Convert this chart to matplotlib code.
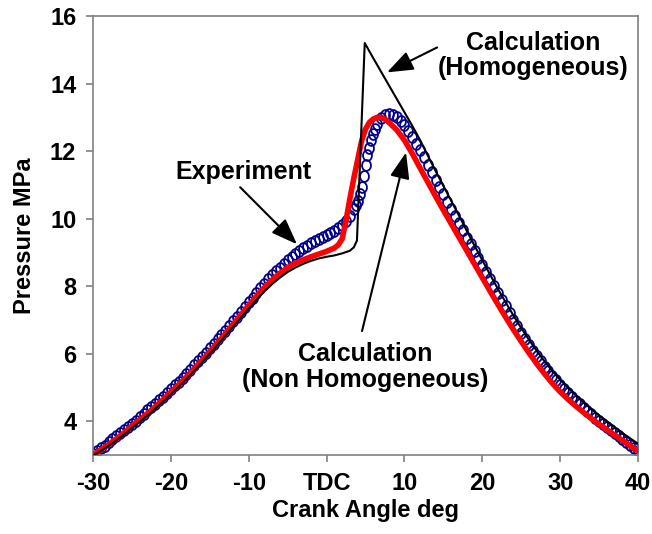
import matplotlib
matplotlib.use("Agg")
import matplotlib.pyplot as plt
import numpy as np
from matplotlib.path import Path

# experiment: crank angle (deg) and measured pressure (MPa)
exp_angle = np.concatenate(
    [np.arange(-30, 3.5, 0.5), np.arange(3.5, 6.75, 0.25), np.arange(7, 40.5, 0.5)]
)
exp_pressure = [
    3.04, 3.12, 3.20, 3.28, 3.37, 3.46, 3.55, 3.64, 3.73, 3.83, 3.93,
    4.02, 4.12, 4.22, 4.32, 4.42, 4.52, 4.62, 4.73, 4.84, 4.95,
    5.06, 5.17, 5.29, 5.41, 5.53, 5.65, 5.77, 5.90, 6.03, 6.16,
    6.29, 6.42, 6.55, 6.68, 6.82, 6.96, 7.10, 7.24, 7.38, 7.52,
    7.66, 7.80, 7.94, 8.07, 8.20, 8.32, 8.44, 8.55, 8.66, 8.76,
    8.86, 8.95, 9.04, 9.12, 9.20, 9.27, 9.34, 9.40, 9.46, 9.52,
    9.58, 9.64, 9.72, 9.80, 9.92, 10.08,
    10.28, 10.40, 10.52, 10.72, 10.95, 11.25, 11.60, 11.88, 12.10, 12.32, 12.50, 12.66, 12.80,
    12.97, 13.07, 13.10, 13.07, 13.00, 12.90, 12.77,
    12.60, 12.42, 12.22, 12.02, 11.81, 11.59, 11.37, 11.15, 10.93, 10.72,
    10.50, 10.28, 10.07, 9.86, 9.65, 9.44, 9.24, 9.04, 8.83, 8.62,
    8.41, 8.20, 8.00, 7.80, 7.60, 7.40, 7.20, 7.00, 6.81, 6.62,
    6.44, 6.26, 6.08, 5.92, 5.77, 5.62, 5.48, 5.34, 5.21, 5.08,
    4.96, 4.84, 4.72, 4.61, 4.50, 4.40, 4.30, 4.20, 4.10, 4.01,
    3.92, 3.83, 3.74, 3.65, 3.56, 3.47, 3.38, 3.29, 3.21, 3.13,
]

# calculation, non homogeneous
nonhom_angle = [
    -30, -29, -28, -27, -26, -25, -24, -23, -22, -21, -20, -19, -18, -17, -16,
    -15, -14, -13, -12, -11, -10, -9, -8, -7, -6, -5, -4, -3, -2, -1, 0, 1,
    1.5, 2, 2.5, 3, 3.5, 4, 4.5, 5, 5.5, 6, 6.5, 7, 7.5, 8,
    9, 10, 11, 12, 13, 14, 15, 16, 17, 18, 19, 20, 21, 22, 23, 24, 25, 26,
    27, 28, 29, 30, 31, 32, 33, 34, 35, 36, 37, 38, 39, 40,
]
nonhom_pressure = [
    3.00, 3.15, 3.31, 3.48, 3.66, 3.86, 4.04, 4.23, 4.43, 4.64, 4.86, 5.08,
    5.31, 5.55, 5.80, 6.06, 6.32, 6.59, 6.87, 7.15, 7.43, 7.70, 7.95, 8.18,
    8.38, 8.55, 8.68, 8.78, 8.87, 8.95, 9.03, 9.13,
    9.22, 9.40, 9.95, 10.60, 11.20, 11.75, 12.30, 12.65, 12.85, 12.95, 13.00,
    13.00, 12.95, 12.85,
    12.63, 12.32, 11.93, 11.50, 11.08, 10.66, 10.25, 9.85, 9.45, 9.05, 8.65,
    8.25, 7.85, 7.46, 7.08, 6.71, 6.36, 6.02, 5.70, 5.40, 5.12, 4.87, 4.65,
    4.45, 4.26, 4.08, 3.91, 3.75, 3.59, 3.43, 3.27, 3.12,
]

# calculation, homogeneous
hom_angle = [
    -30, -29, -28, -27, -26, -25, -24, -23, -22, -21, -20, -19, -18, -17, -16,
    -15, -14, -13, -12, -11, -10, -9, -8, -7, -6, -5, -4, -3, -2, -1, 0, 1, 2,
    3, 3.5, 3.9, 4.9, 6, 7, 8, 9, 10, 11, 12, 13, 14, 15, 16, 17, 18, 19, 20,
    21, 22, 23, 24, 25, 26, 27, 28, 29, 30, 31, 32, 33, 34, 35, 36, 37, 38,
    39, 40,
]
hom_pressure = [
    2.97, 3.12, 3.27, 3.43, 3.61, 3.80, 3.98, 4.17, 4.37, 4.58, 4.80, 5.02,
    5.25, 5.49, 5.74, 6.00, 6.26, 6.53, 6.80, 7.07, 7.34, 7.60, 7.84, 8.06,
    8.25, 8.42, 8.55, 8.66, 8.75, 8.82, 8.87, 8.91, 8.97,
    9.05, 9.15, 9.35, 15.20, 14.75, 14.35, 13.95, 13.55, 13.15, 12.75, 12.33,
    11.87, 11.41, 10.97, 10.53, 10.09, 9.64, 9.20, 8.77, 8.34, 7.92, 7.52,
    7.13, 6.76, 6.41, 6.08, 5.77, 5.49, 5.23, 4.99, 4.77, 4.56, 4.36, 4.17,
    3.99, 3.82, 3.65, 3.49, 3.33,
]

x_ticks = [-30, -20, -10, 0, 10, 20, 30, 40]
x_tick_labels = ["-30", "-20", "-10", "TDC", "10", "20", "30", "40"]
y_ticks = [4, 6, 8, 10, 12, 14, 16]

plt.rcParams["font.family"] = ["Liberation Sans", "DejaVu Sans"]
plt.rcParams["font.weight"] = "bold"
plt.rcParams["axes.labelweight"] = "bold"
plt.rcParams["font.size"] = 17

fig = plt.figure(figsize=(6.52, 5.34), dpi=100)
ax = fig.add_axes([0.1426, 0.148, 0.836, 0.822])

# slightly tall open circle, as in the original
theta = np.linspace(0, 2 * np.pi, 50)
ellipse = Path(np.column_stack([0.82 * np.cos(theta), np.sin(theta)]))

ax.plot(
    exp_angle,
    exp_pressure,
    linestyle="none",
    marker=ellipse,
    markersize=7.8,
    markerfacecolor="none",
    markeredgecolor="#00008c",
    markeredgewidth=1.3,
    zorder=2,
)
ax.plot(nonhom_angle, nonhom_pressure, color="#ff0000", linewidth=4, zorder=3)
ax.plot(hom_angle, hom_pressure, color="black", linewidth=1.5, zorder=4)

ax.set_xlim(-30, 40)
ax.set_ylim(3, 16)
ax.set_xticks(x_ticks)
ax.set_xticklabels(x_tick_labels)
ax.set_yticks(y_ticks)

for spine in ax.spines.values():
    spine.set_color("#808080")
    spine.set_linewidth(1.2)
ax.tick_params(direction="out", length=5, width=1.2, color="#808080", pad=7)

ax.set_xlabel("Crank Angle deg", labelpad=3)
ax.set_ylabel("Pressure MPa", labelpad=10)

arrow = dict(
    arrowstyle="-|>,head_length=0.8,head_width=0.3",
    color="black",
    lw=1.5,
    mutation_scale=20,
    shrinkA=0,
    shrinkB=0,
)

ax.text(26.5, 14.83, "Calculation\n(Homogeneous)", ha="center", va="center",
        fontsize=18, linespacing=1.1)
ax.annotate("", xy=(7.76, 14.33), xytext=(14.2, 15.07), arrowprops=arrow)

ax.text(-10.7, 11.37, "Experiment", ha="center", va="center", fontsize=18)
ax.annotate("", xy=(-3.8, 9.24), xytext=(-11.1, 10.93), arrowprops=arrow)

ax.text(4.9, 5.6, "Calculation\n(Non Homogeneous)", ha="center", va="center",
        fontsize=18, linespacing=1.1)
ax.annotate("", xy=(10.2, 11.96), xytext=(4.55, 6.67), arrowprops=arrow)

fig.savefig("out.png", dpi=100)
plt.close(fig)
